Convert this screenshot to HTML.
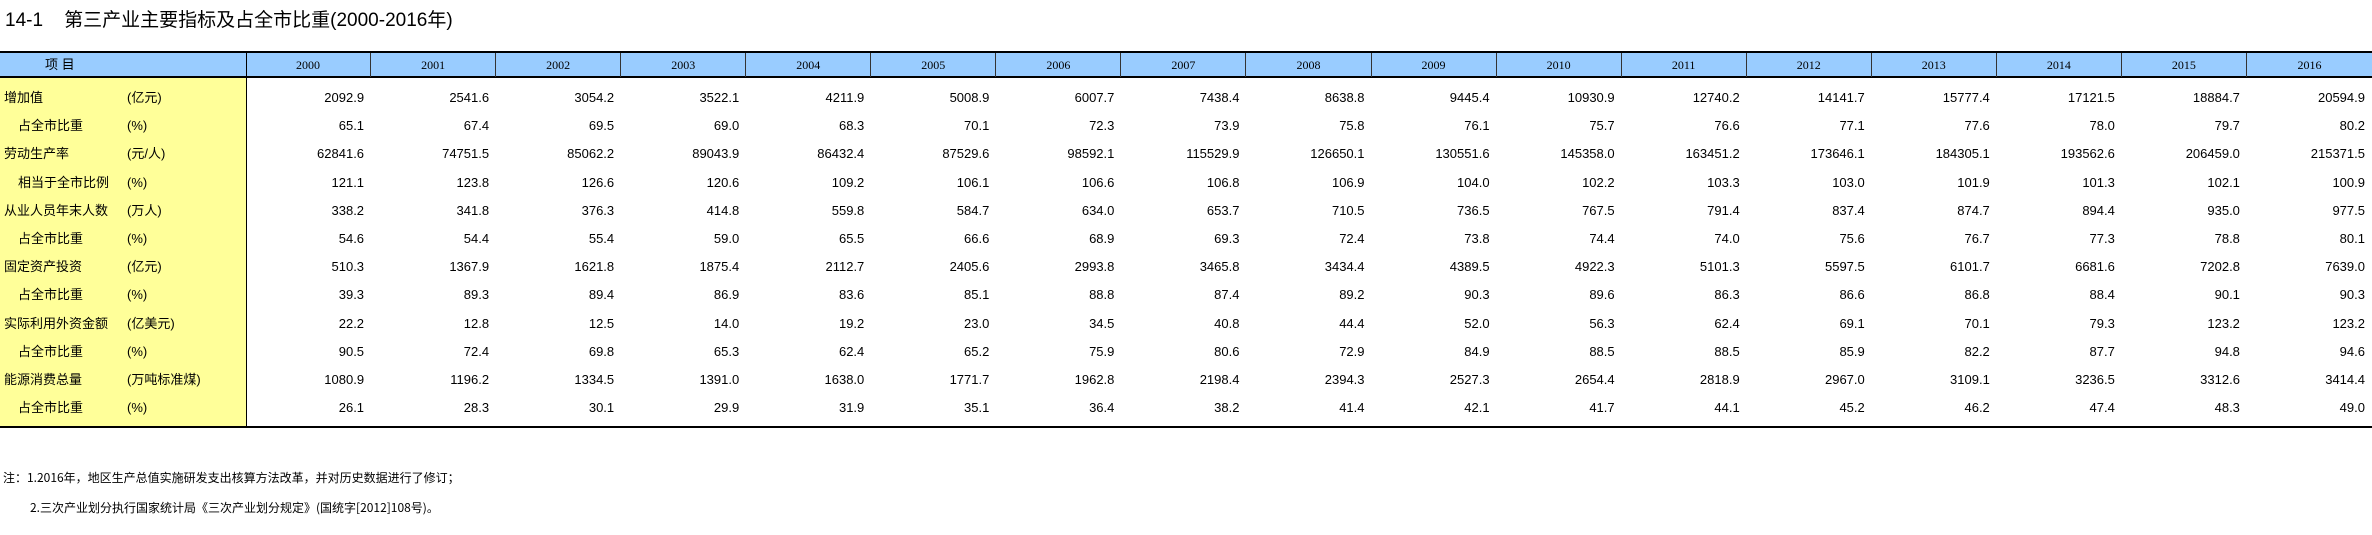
<!DOCTYPE html>
<html><head><meta charset="utf-8">
<style>
html,body{margin:0;padding:0;background:#fff;}
#root{position:relative;width:2372px;height:535px;overflow:hidden;font-family:"Liberation Sans","Noto Sans CJK SC",sans-serif;color:#000;}
.abs{position:absolute;}
.title{left:5px;top:5px;font-size:19px;white-space:nowrap;font-family:"Liberation Sans","Noto Sans CJK SC",sans-serif;}
.hd{position:absolute;top:53px;height:24px;line-height:24px;text-align:center;font-family:"Liberation Serif",serif;font-size:12px;border-right:1px solid #333;box-sizing:border-box;}
.lbl{position:absolute;font-size:13px;white-space:nowrap;line-height:16px;}
.num{position:absolute;font-size:13px;text-align:right;line-height:16px;white-space:nowrap;}
.note{position:absolute;left:3px;font-size:12px;white-space:nowrap;font-family:"WenQuanYi Zen Hei","Noto Sans CJK SC",sans-serif;}
</style></head>
<body>
<div id="root">
  <div class="abs title">14-1&nbsp;&nbsp;&nbsp;&nbsp;第三产业主要指标及占全市比重(2000-2016年)</div>
  <div class="abs" style="left:0;top:53px;width:2372px;height:24px;background:#99ccff"></div>
  <div class="abs" style="left:0;top:78px;width:246px;height:348px;background:#ffff99"></div>
  <div class="abs" style="left:0;top:51px;width:2372px;height:2px;background:#000"></div>
  <div class="abs" style="left:0;top:76px;width:2372px;height:2px;background:#000"></div>
  <div class="abs" style="left:0;top:426px;width:2372px;height:2px;background:#000"></div>
  <div class="abs" style="left:246px;top:53px;width:1px;height:373px;background:#000"></div>
  <div class="hd" style="left:0;width:246px;font-family:'Liberation Sans','Noto Sans CJK SC',sans-serif;font-size:13px;text-align:left;padding-left:45px;border-right:none">项 目</div>
  <div id="cells"></div>
  <div class="note" style="top:469px">注：1.2016年，地区生产总值实施研发支出核算方法改革，并对历史数据进行了修订；</div>
  <div class="note" style="top:499px;left:30px">2.三次产业划分执行国家统计局《三次产业划分规定》(国统字[2012]108号)。</div>
</div>
<script>
const years = ["2000","2001","2002","2003","2004","2005","2006","2007","2008","2009","2010","2011","2012","2013","2014","2015","2016"];
const rowLabels = ["增加值","占全市比重","劳动生产率","相当于全市比例","从业人员年末人数","占全市比重","固定资产投资","占全市比重","实际利用外资金额","占全市比重","能源消费总量","占全市比重"];
const rowUnits = ["(亿元)","(%)","(元/人)","(%)","(万人)","(%)","(亿元)","(%)","(亿美元)","(%)","(万吨标准煤)","(%)"];
const rowIndent = [false,true,false,true,false,true,false,true,false,true,false,true];
const vAdded = ["2092.9","2541.6","3054.2","3522.1","4211.9","5008.9","6007.7","7438.4","8638.8","9445.4","10930.9","12740.2","14141.7","15777.4","17121.5","18884.7","20594.9"];
const vAddedShare = ["65.1","67.4","69.5","69.0","68.3","70.1","72.3","73.9","75.8","76.1","75.7","76.6","77.1","77.6","78.0","79.7","80.2"];
const vProductivity = ["62841.6","74751.5","85062.2","89043.9","86432.4","87529.6","98592.1","115529.9","126650.1","130551.6","145358.0","163451.2","173646.1","184305.1","193562.6","206459.0","215371.5"];
const vProdRatio = ["121.1","123.8","126.6","120.6","109.2","106.1","106.6","106.8","106.9","104.0","102.2","103.3","103.0","101.9","101.3","102.1","100.9"];
const vEmployed = ["338.2","341.8","376.3","414.8","559.8","584.7","634.0","653.7","710.5","736.5","767.5","791.4","837.4","874.7","894.4","935.0","977.5"];
const vEmployedShare = ["54.6","54.4","55.4","59.0","65.5","66.6","68.9","69.3","72.4","73.8","74.4","74.0","75.6","76.7","77.3","78.8","80.1"];
const vInvest = ["510.3","1367.9","1621.8","1875.4","2112.7","2405.6","2993.8","3465.8","3434.4","4389.5","4922.3","5101.3","5597.5","6101.7","6681.6","7202.8","7639.0"];
const vInvestShare = ["39.3","89.3","89.4","86.9","83.6","85.1","88.8","87.4","89.2","90.3","89.6","86.3","86.6","86.8","88.4","90.1","90.3"];
const vFdi = ["22.2","12.8","12.5","14.0","19.2","23.0","34.5","40.8","44.4","52.0","56.3","62.4","69.1","70.1","79.3","123.2","123.2"];
const vFdiShare = ["90.5","72.4","69.8","65.3","62.4","65.2","75.9","80.6","72.9","84.9","88.5","88.5","85.9","82.2","87.7","94.8","94.6"];
const vEnergy = ["1080.9","1196.2","1334.5","1391.0","1638.0","1771.7","1962.8","2198.4","2394.3","2527.3","2654.4","2818.9","2967.0","3109.1","3236.5","3312.6","3414.4"];
const vEnergyShare = ["26.1","28.3","30.1","29.9","31.9","35.1","36.4","38.2","41.4","42.1","41.7","44.1","45.2","46.2","47.4","48.3","49.0"];
const rowValues = [vAdded,vAddedShare,vProductivity,vProdRatio,vEmployed,vEmployedShare,vInvest,vInvestShare,vFdi,vFdiShare,vEnergy,vEnergyShare];

const X0 = 246, COLW = (2372-246)/years.length, Y0 = 98, ROWH = 28.2;
const colX = i => X0 + i*COLW;
const rowY = r => Y0 + r*ROWH;
const host = document.getElementById('cells');

years.forEach((y,i)=>{
  const d = document.createElement('div');
  d.className='hd';
  d.style.left = colX(i)+'px';
  d.style.width = COLW+'px';
  if(i===years.length-1) d.style.borderRight='none';
  d.textContent = y;
  
  
  host.appendChild(d);
});

rowLabels.forEach((lab,r)=>{
  const cy = rowY(r);
  const l = document.createElement('div');
  l.className='lbl';
  l.style.left = (rowIndent[r]?18:4)+'px';
  l.style.top = (cy-8)+'px';
  l.textContent = lab;
  
  
  host.appendChild(l);
  const u = document.createElement('div');
  u.className='lbl';
  u.style.left = '127px';
  u.style.top = (cy-8)+'px';
  u.textContent = rowUnits[r];
  
  
  host.appendChild(u);
  rowValues[r].forEach((v,i)=>{
    const n = document.createElement('div');
    n.className='num';
    n.style.left = colX(i)+'px';
    n.style.width = (COLW-7)+'px';
    n.style.top = (cy-8)+'px';
    n.textContent = v;
    
    
    host.appendChild(n);
  });
});
</script>
</body></html>
